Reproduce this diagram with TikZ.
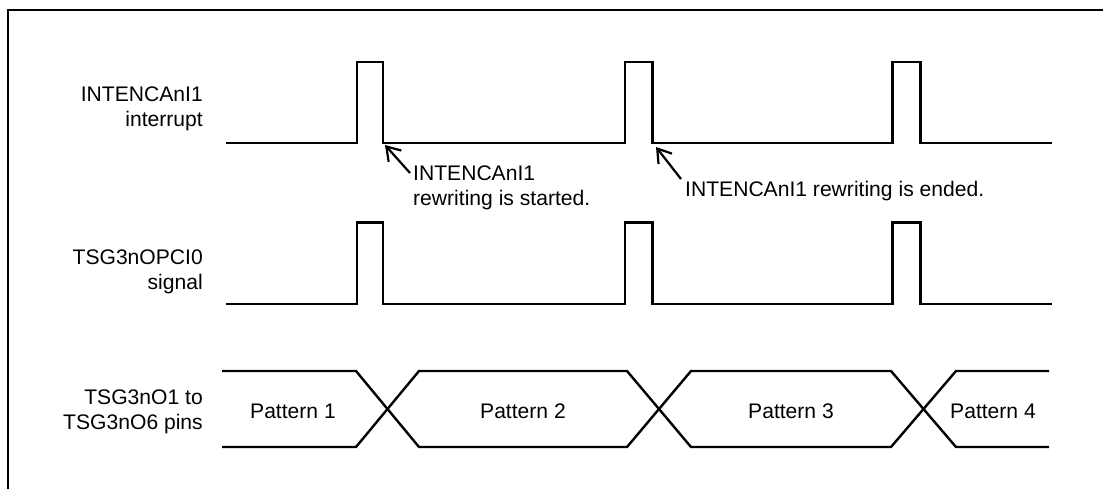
\documentclass[tikz,border=0pt]{standalone}
\usepackage{fontspec}
\setmainfont{Liberation Sans}
\usetikzlibrary{arrows.meta}
\newcommand\rlines[2]{\vtop{\baselineskip=25pt\halign{\hfil##\cr#1\cr#2\cr}}}
\newcommand\llines[2]{\vtop{\baselineskip=25pt\halign{##\hfil\cr#1\cr#2\cr}}}
\begin{document}
\begin{tikzpicture}[x=1pt,y=-1pt,
  wave/.style={line width=2.4pt, line join=miter},
  lbl/.style={inner sep=0pt, font=\fontsize{21.1}{25}\selectfont},
  note/.style={line width=2.2pt, {Straight Barb[length=13pt,width=17pt]}-}]
\useasboundingbox (0,0) rectangle (1103,488);
% frame
\draw[line width=2.4pt] (8,489) -- (8,10) -- (1104,10);
% signal labels
\node[lbl, anchor=base east] (l1) at (203,101) {\rlines{INTENCAnI1}{interrupt}};
\node[lbl, anchor=base east] (l2) at (203,264) {\rlines{TSG3nOPCI0}{signal}};
\node[lbl, anchor=base east] (l3) at (203,404) {\rlines{TSG3nO1 to}{TSG3nO6 pins}};
% INTENCAnI1 interrupt
\draw[wave] (226,143) -- (357,143) -- (357,62) -- (383,62) -- (383,143)
  -- (625,143) -- (625,62) -- (652.5,62) -- (652.5,143)
  -- (892.5,143) -- (892.5,62) -- (920.5,62) -- (920.5,143) -- (1052,143);
% TSG3nOPCI0 signal
\draw[wave] (226,304) -- (357,304) -- (357,222.5) -- (383,222.5) -- (383,304)
  -- (625,304) -- (625,222.5) -- (652.5,222.5) -- (652.5,304)
  -- (892.5,304) -- (892.5,222.5) -- (920.5,222.5) -- (920.5,304) -- (1052,304);
% pattern bus
\draw[wave] (222,371) -- (356,371) -- (419,447) -- (627,447) -- (691,371)
  -- (891,371) -- (956,447) -- (1049,447);
\draw[wave] (222,447) -- (356,447) -- (419,371) -- (627,371) -- (691,447)
  -- (891,447) -- (956,371) -- (1049,371);
\node[lbl, anchor=base] (p1) at (293,418) {Pattern 1};
\node[lbl, anchor=base] (p2) at (523,418) {Pattern 2};
\node[lbl, anchor=base] (p3) at (791,418) {Pattern 3};
\node[lbl, anchor=base] (p4) at (993,418) {Pattern 4};
% annotations
\node[lbl, anchor=base west] (n1) at (413,180) {\llines{INTENCAnI1}{rewriting is started.}};
\node[lbl, anchor=base west] (n2) at (685,196) {INTENCAnI1 rewriting is ended.};
\coordinate (tip1) at (385,145);
\coordinate (tail1) at (410,173);
\coordinate (tip2) at (656,147);
\coordinate (tail2) at (681,179);
\draw[note] (tip1) -- (tail1);
\draw[note] (tip2) -- (tail2);
\end{tikzpicture}
\end{document}
